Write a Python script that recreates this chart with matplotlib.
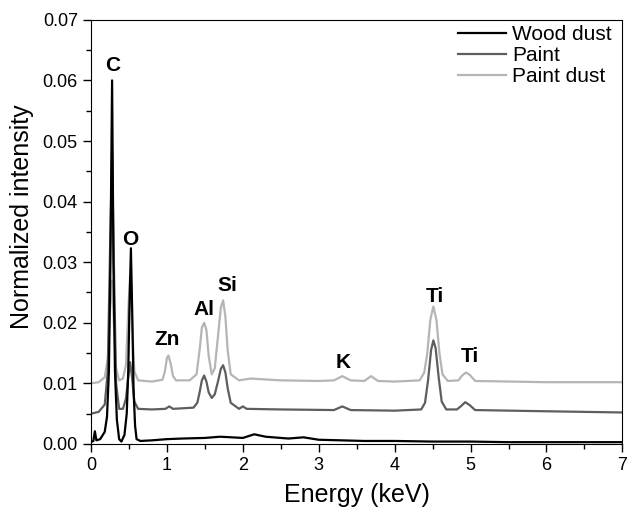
import matplotlib
matplotlib.use("Agg")
import matplotlib.pyplot as plt
from matplotlib.ticker import MultipleLocator, FormatStrFormatter

plt.rcParams['font.family'] = ['Liberation Sans', 'DejaVu Sans']

# (energy keV, normalized intensity)
wood_dust = [(0, 0.0003), (0.03, 0.0005), (0.05, 0.0021), (0.07, 0.0006), (0.12, 0.0008),
             (0.18, 0.002), (0.21, 0.0045), (0.235, 0.012), (0.255, 0.03), (0.277, 0.060),
             (0.295, 0.03), (0.315, 0.012), (0.34, 0.004), (0.37, 0.0008), (0.40, 0.0004),
             (0.44, 0.0015), (0.47, 0.005), (0.49, 0.012), (0.505, 0.022), (0.525, 0.0323),
             (0.545, 0.020), (0.56, 0.009), (0.58, 0.003), (0.60, 0.0008),
             (0.65, 0.0005), (0.8, 0.0006), (1.0, 0.0008), (1.2, 0.0009), (1.5, 0.001),
             (1.7, 0.0012), (2.0, 0.0010), (2.15, 0.0016), (2.3, 0.0012), (2.6, 0.0009),
             (2.8, 0.0011), (3.0, 0.0007), (3.3, 0.0006), (3.6, 0.0005), (4.0, 0.0005),
             (4.5, 0.0004), (5.0, 0.0004), (5.5, 0.0003), (6.0, 0.0003), (6.5, 0.0003),
             (7.0, 0.0003)]
paint = [(0, 0.005), (0.1, 0.0053), (0.18, 0.0065), (0.22, 0.012), (0.25, 0.032),
         (0.277, 0.048), (0.30, 0.030), (0.33, 0.010), (0.37, 0.0058), (0.42, 0.0058),
         (0.46, 0.0075), (0.49, 0.011), (0.515, 0.0135), (0.54, 0.011), (0.57, 0.007),
         (0.62, 0.0058), (0.8, 0.0057), (0.98, 0.0058), (1.03, 0.0062), (1.08, 0.0058),
         (1.35, 0.006), (1.40, 0.0068), (1.43, 0.0085), (1.46, 0.0105), (1.49, 0.0113),
         (1.52, 0.0103), (1.55, 0.0085), (1.59, 0.0076), (1.63, 0.0082), (1.67, 0.0102),
         (1.71, 0.0124), (1.74, 0.013), (1.77, 0.0118), (1.80, 0.0092), (1.84, 0.0068),
         (1.95, 0.0058), (2.0, 0.0062), (2.05, 0.0058),
         (2.5, 0.0057), (3.2, 0.0056), (3.31, 0.0062), (3.42, 0.0056), (4.0, 0.0055),
         (4.35, 0.0057), (4.40, 0.0068), (4.44, 0.0105), (4.48, 0.0155), (4.51, 0.0171),
         (4.54, 0.0158), (4.58, 0.011), (4.62, 0.007), (4.68, 0.0057), (4.82, 0.0057),
         (4.87, 0.0062), (4.93, 0.0069), (4.99, 0.0064), (5.06, 0.0056), (6.0, 0.0054),
         (7.0, 0.0052)]
paint_dust = [(0, 0.010), (0.1, 0.0102), (0.18, 0.011), (0.22, 0.014), (0.25, 0.022),
              (0.277, 0.027), (0.30, 0.020), (0.33, 0.0125), (0.37, 0.0105), (0.42, 0.0108),
              (0.46, 0.013), (0.49, 0.022), (0.515, 0.028), (0.54, 0.020), (0.57, 0.012),
              (0.62, 0.0105), (0.8, 0.0103), (0.94, 0.0106), (0.97, 0.0118), (1.0, 0.0142),
              (1.02, 0.0146), (1.05, 0.0132), (1.08, 0.0112), (1.12, 0.0105), (1.3, 0.0105),
              (1.39, 0.0115), (1.43, 0.0155), (1.46, 0.0192), (1.49, 0.020), (1.52, 0.0188),
              (1.55, 0.0145), (1.59, 0.0115), (1.63, 0.0125), (1.67, 0.0175), (1.71, 0.0225),
              (1.74, 0.0237), (1.77, 0.021), (1.80, 0.0155), (1.84, 0.0115), (1.95, 0.0105),
              (2.1, 0.0108), (2.5, 0.0105), (3.0, 0.0104), (3.2, 0.0105), (3.31, 0.0112),
              (3.42, 0.0105), (3.6, 0.0104), (3.69, 0.0112), (3.78, 0.0104), (4.0, 0.0103),
              (4.33, 0.0105), (4.39, 0.0118), (4.43, 0.015), (4.47, 0.0205), (4.51, 0.0227),
              (4.55, 0.0205), (4.59, 0.015), (4.63, 0.0115), (4.70, 0.0104), (4.84, 0.0105),
              (4.89, 0.0113), (4.94, 0.0118), (4.99, 0.0114), (5.06, 0.0104), (6.0, 0.0102),
              (7.0, 0.0102)]

peak_names = ['C', 'O', 'Zn', 'Al', 'Si', 'K', 'Ti', 'Ti']
peak_x = [0.29, 0.51, 1.0, 1.49, 1.79, 3.32, 4.53, 4.99]
peak_y = [0.0625, 0.0337, 0.0172, 0.0222, 0.0262, 0.0135, 0.0243, 0.0144]

series = [('Wood dust', wood_dust, 'black', 3),
          ('Paint', paint, '#5e5e5e', 2),
          ('Paint dust', paint_dust, '#b5b5b5', 1)]

fig = plt.figure(figsize=(6.28, 5.08), dpi=100)
ax = fig.add_axes([0.145, 0.126, 0.846, 0.835])
for name, pts, col, z in series:
    ax.plot([p[0] for p in pts], [p[1] for p in pts], color=col, lw=1.6, label=name, zorder=z)
for n, x, y in zip(peak_names, peak_x, peak_y):
    ax.text(x, y, n, ha='center', va='center', fontsize=15, fontweight='bold')

ax.set_xlim(0, 7); ax.set_ylim(0, 0.07)
ax.xaxis.set_major_locator(MultipleLocator(1)); ax.xaxis.set_minor_locator(MultipleLocator(0.5))
ax.yaxis.set_major_locator(MultipleLocator(0.01)); ax.yaxis.set_minor_locator(MultipleLocator(0.005))
ax.yaxis.set_major_formatter(FormatStrFormatter('%.2f'))
ax.tick_params(which='major', direction='out', length=6, width=1, labelsize=13)
ax.tick_params(which='minor', direction='out', length=3.5, width=1)
ax.set_xlabel('Energy (keV)', fontsize=18, labelpad=6)
ax.set_ylabel('Normalized intensity', fontsize=18)
ax.yaxis.set_label_coords(-0.108, 0.535)
ax.legend(loc='upper right', bbox_to_anchor=(1.008, 1.022), frameon=False, fontsize=15,
          handlelength=2.3, handletextpad=0.3, labelspacing=0.1, borderaxespad=0.3)
fig.savefig('out.png', dpi=100)
